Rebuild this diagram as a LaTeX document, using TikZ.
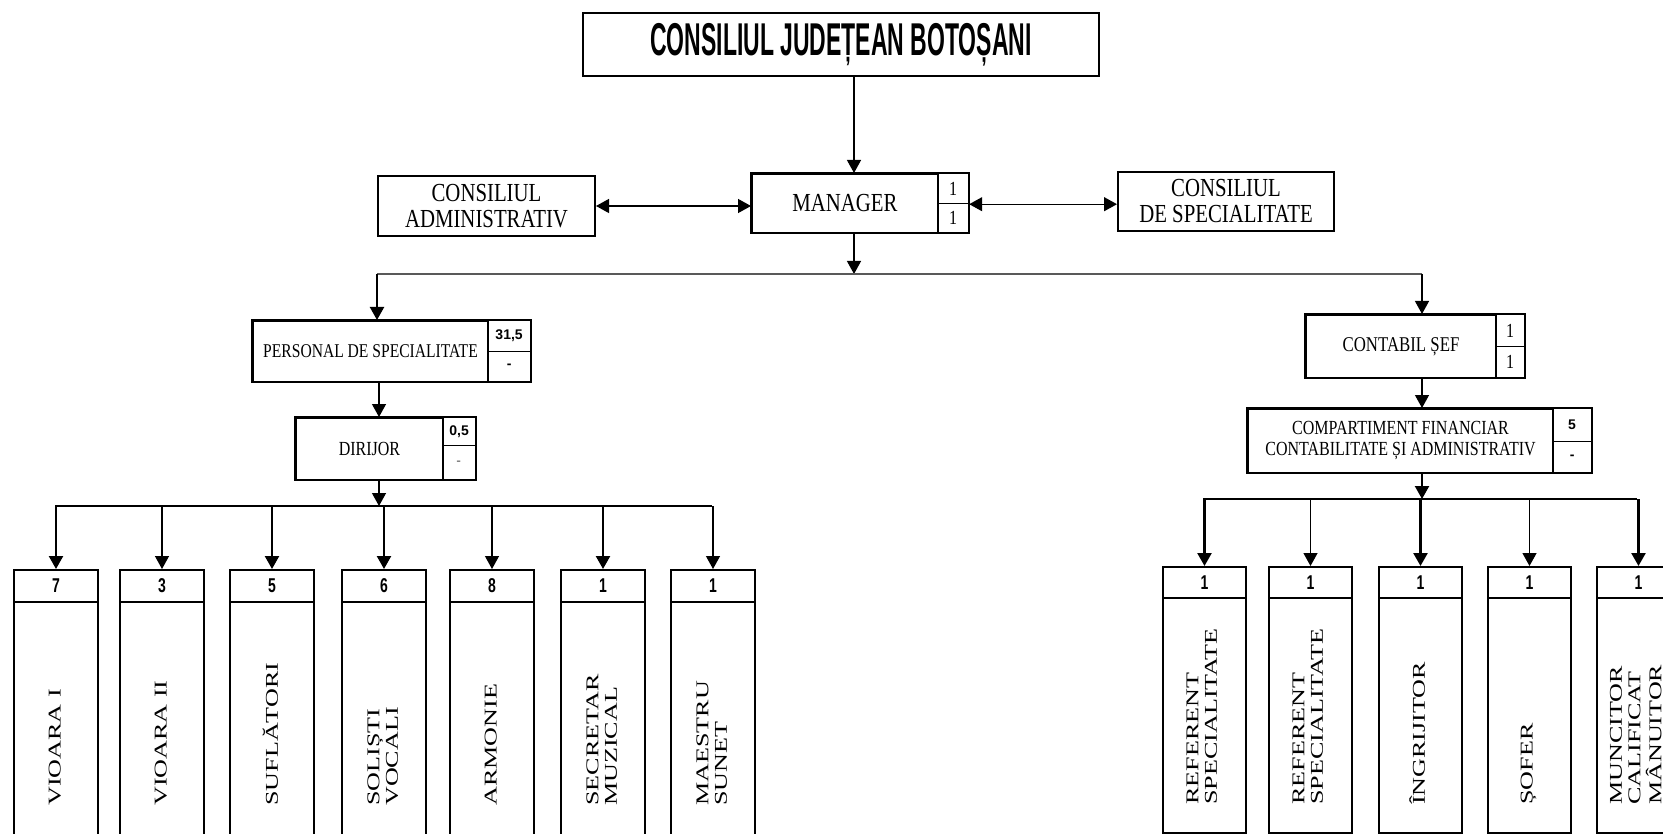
\documentclass[tikz,border=0pt]{standalone}
\usepackage{fontspec}
\usepackage{graphicx}
\setmainfont{Liberation Serif}
\newfontfamily\nar[FakeStretch=0.8]{Liberation Serif}
\newfontfamily\ttl[FakeStretch=0.5]{Liberation Sans}
\newfontfamily\dig[FakeStretch=0.7]{Liberation Sans}
\newcommand\vtext[1]{\scalebox{1.45}[1]{\begin{tabular}{@{}l@{}}#1\end{tabular}}}
\usetikzlibrary{arrows.meta,calc}
\begin{document}
\begin{tikzpicture}[x=1pt,y=-1pt,
 box/.style={draw, line width=2pt, inner sep=0pt, anchor=north west},
 sub/.style={draw, line width=1.2pt, inner sep=0pt, anchor=north west},
 arr/.style={-{Triangle[width=14pt,length=13pt]}, line width=1.3pt},
 dbl/.style={{Triangle[width=14pt,length=13pt]}-{Triangle[width=14pt,length=13pt]}, line width=1.3pt},
 vlab/.style={rotate=90, anchor=west, inner sep=0pt, font=\rmfamily\fontsize{18}{18.5}\selectfont},
 big/.style={font=\nar\fontsize{26}{26}\selectfont, align=center},
 mid/.style={font=\nar\fontsize{20}{21}\selectfont, align=center},
 smallnum/.style={font=\sffamily\fontspec{Liberation Sans}\bfseries\fontsize{14}{14}\selectfont},
 sernum/.style={font=\nar\fontsize{20}{20}\selectfont},
 stripnum/.style={font=\dig\bfseries\fontsize{20}{20}\selectfont}
]
\useasboundingbox[fill=white] (0,0) rectangle (1663,834);

% top
\node[box, minimum width=516pt, minimum height=63pt, font=\ttl\bfseries\fontsize{46}{46}\selectfont] (title) at (582,12) {CONSILIUL JUDEȚEAN BOTOȘANI};

\node[box, big, minimum width=186pt, minimum height=59pt] (mgr) at (751,173) {MANAGER};
\node[sub, sernum, minimum width=31pt, minimum height=30pt] (mgrA) at (937,173) {1};
\node[sub, sernum, minimum width=31pt, minimum height=29pt] (mgrB) at (937,203) {1};
\draw[line width=2pt] (mgr.north west) rectangle (mgrB.south east);

\node[box, big, minimum width=217pt, minimum height=60pt] (ca) at (377,175) {CONSILIUL\\ADMINISTRATIV};
\node[box, big, minimum width=216pt, minimum height=59pt] (cs) at (1117,171) {CONSILIUL\\DE SPECIALITATE};

\coordinate (ax) at (854,0);
\draw[arr] (title.south -| ax) -- (mgr.north -| ax);
\draw[dbl] (ca.east) -- (ca.east -| mgr.west);
\draw[dbl] (mgrA.south east) -- (mgrA.south east -| cs.west);

% main bus
\coordinate (mbusL) at (377,274);
\coordinate (mbusR) at (1422,274);
\draw[arr] (mgr.south -| ax) -- (ax |- mbusL);
\draw[line width=1.6pt, black!65] (mbusL) -- (mbusR);

% left branch
\node[box, font=\nar\fontsize{19.5}{19.5}\selectfont, minimum width=235pt, minimum height=61pt] (ps) at (252,320) {PERSONAL DE SPECIALITATE};
\node[sub, smallnum, minimum width=43pt, minimum height=31pt] (psA) at (487,320) {31,5};
\node[sub, smallnum, minimum width=43pt, minimum height=30pt] (psB) at (487,351) {-};
\draw[line width=2pt] (ps.north west) rectangle (psB.south east);
\draw[arr, line width=2.2pt] (mbusL) -- (mbusL |- ps.north);

\node[box, font=\nar\fontsize{20}{20}\selectfont, minimum width=147pt, minimum height=62pt] (dir) at (295,417) {DIRIJOR};
\node[sub, smallnum, minimum width=33pt, minimum height=28pt] (dA) at (442,417) {0,5};
\node[sub, smallnum, font=\sffamily\fontsize{13}{13}\selectfont, minimum width=33pt, minimum height=34pt] (dB) at (442,445) {-};
\draw[line width=2pt] (dir.north west) rectangle (dB.south east);

\coordinate (dx) at (379,0);
\draw[arr] (ps.south -| dx) -- (dir.north -| dx);

\coordinate (lbusL) at (55,506);
\coordinate (lbusR) at (712,506);
\draw[arr] (dir.south -| dx) -- (dx |- lbusL);
\draw[line width=2.2pt] (lbusL) -- (lbusR);

\foreach \n/\x/\cnt/\w/\lab in {l1/13/7/2.4/{VIOARA I}, l2/119/3/1.3/{VIOARA II}, l3/229/5/2.4/{SUFLĂTORI}, l4/341/6/2.4/{SOLIȘTI\\VOCALI}, l5/449/8/1.3/{ARMONIE}, l6/560/1/2.4/{SECRETAR\\MUZICAL}, l7/670/1/1.3/{MAESTRU\\SUNET}} {
  \node[box, stripnum, minimum width=84pt, minimum height=32pt] (\n c) at (\x,569) {\cnt};
  \node[box, minimum width=84pt, minimum height=300pt] (\n b) at (\x,601) {};
  \node[vlab] (\n t) at (\x+44,806) {\vtext{\lab}};
  \draw[arr, line width=\w pt] (\n c.north |- lbusL) -- (\n c.north);
}

% right branch
\node[box, font=\nar\fontsize{21}{21}\selectfont, minimum width=190pt, minimum height=63pt] (cont) at (1305,314) {CONTABIL ȘEF};
\node[sub, sernum, minimum width=29pt, minimum height=32pt] (cA) at (1495,314) {1};
\node[sub, sernum, minimum width=29pt, minimum height=31pt] (cB) at (1495,346) {1};
\draw[line width=2pt] (cont.north west) rectangle (cB.south east);
\draw[arr] (mbusR) -- (mbusR |- cont.north);

\node[box, mid, minimum width=305pt, minimum height=64pt] (comp) at (1247,408) {COMPARTIMENT FINANCIAR\\CONTABILITATE ȘI ADMINISTRATIV};
\node[sub, smallnum, minimum width=39pt, minimum height=33pt] (kA) at (1552,408) {5};
\node[sub, smallnum, minimum width=39pt, minimum height=31pt] (kB) at (1552,441) {-};
\draw[line width=2pt] (comp.north west) rectangle (kB.south east);
\draw[arr] (cont.south -| mbusR) -- (comp.north -| mbusR);

\coordinate (rbusL) at (1203,499);
\coordinate (rbusR) at (1637,499);
\draw[arr, line width=2.2pt] (comp.south -| mbusR) -- (mbusR |- rbusL);
\draw[line width=2.2pt] (rbusL) -- (rbusR);

\foreach \n/\x/\w/\lab in {r1/1162/2.4/{REFERENT\\SPECIALITATE}, r2/1268/1.3/{REFERENT\\SPECIALITATE}, r3/1378/2.4/{ÎNGRIJITOR}, r4/1487/1.3/{ȘOFER}, r5/1596/2.4/{MUNCITOR\\CALIFICAT\\MÂNUITOR}} {
  \node[box, stripnum, minimum width=83pt, minimum height=31pt] (\n c) at (\x,566) {1};
  \node[box, minimum width=83pt, minimum height=235pt] (\n b) at (\x,597) {};
  \node[vlab] (\n t) at (\x+42,805) {\vtext{\lab}};
  \draw[arr, line width=\w pt] (\n c.north |- rbusL) -- (\n c.north);
}
\end{tikzpicture}
\end{document}
